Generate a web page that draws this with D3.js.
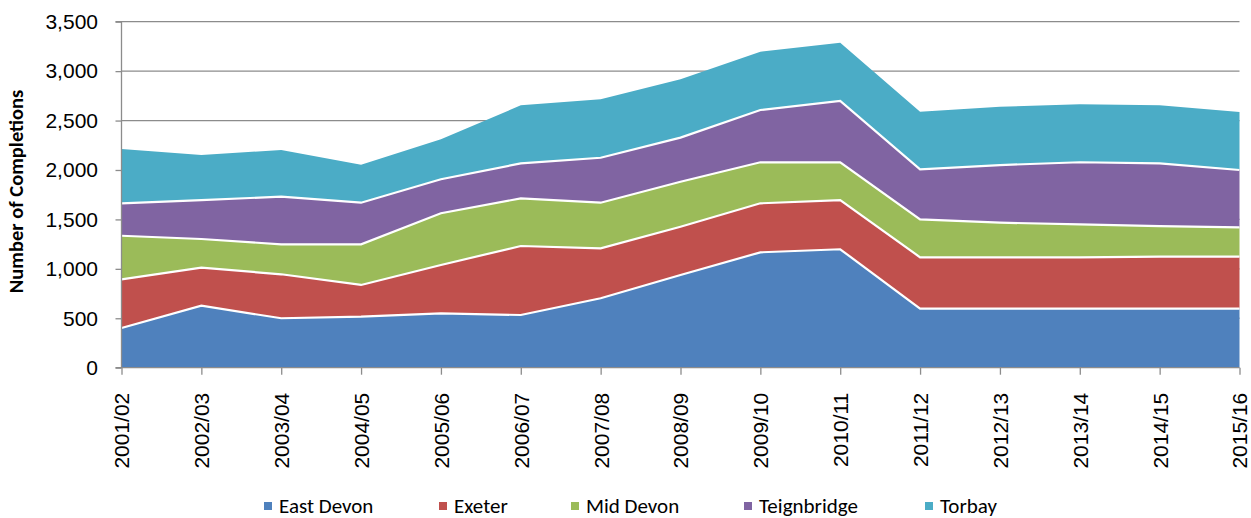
<!DOCTYPE html>
<html>
<head>
<meta charset="utf-8">
<script src="https://cdn.jsdelivr.net/npm/d3@7"></script>
<style>
  html, body { margin: 0; padding: 0; background: #fff; }
  svg { display: block; font-family: Carlito, Calibri, "Liberation Sans", "DejaVu Sans", sans-serif; }
</style>
</head>
<body>
<svg id="chart" width="1251" height="518"></svg>
<script>
// Housing completions by district, stacked
const years = ["2001/02","2002/03","2003/04","2004/05","2005/06","2006/07","2007/08",
               "2008/09","2009/10","2010/11","2011/12","2012/13","2013/14","2014/15","2015/16"];
const seriesNames = ["East Devon","Exeter","Mid Devon","Teignbridge","Torbay"];
const eastDevon   = [401, 627, 500, 516, 550, 533, 702, 938, 1167, 1198, 598, 598, 598, 598, 598];
const exeter      = [493, 385, 445, 321, 489, 698, 506, 488, 496, 498, 519, 519, 519, 525, 525];
const midDevon    = [441, 290, 303, 411, 523, 482, 461, 455, 415, 382, 384, 350, 333, 310, 297];
const teignbridge = [328, 394, 482, 421, 344, 354, 455, 446, 529, 620, 506, 583, 628, 634, 580];
const torbay      = [549, 455, 472, 384, 404, 587, 591, 590, 590, 590, 583, 590, 586, 587, 587];
const colors = ["#4F81BD","#C0504D","#9BBB59","#8064A2","#4BACC6"];
const yTicks = [0, 500, 1000, 1500, 2000, 2500, 3000, 3500];
const yTitle = "Number of Completions";

const rows = years.map((y, i) => ({
  year: y,
  "East Devon": eastDevon[i],
  "Exeter": exeter[i],
  "Mid Devon": midDevon[i],
  "Teignbridge": teignbridge[i],
  "Torbay": torbay[i]
}));

const svg = d3.select("#chart");
const plotLeft = 121.5, plotRight = 1239.5, plotTop = 21.7, plotBottom = 367.7;

const x = d3.scalePoint().domain(years).range([plotLeft, plotRight]);
const y = d3.scaleLinear().domain([0, 3500]).range([plotBottom, plotTop]);

// gridlines
svg.append("g").selectAll("line").data(yTicks.slice(1)).join("line")
  .attr("x1", plotLeft).attr("x2", plotRight)
  .attr("y1", d => y(d)).attr("y2", d => y(d))
  .attr("stroke", "#8c8c8c").attr("stroke-width", 1.3);

const stacked = d3.stack().keys(seriesNames)(rows);

const area = d3.area()
  .x(d => x(d.data.year))
  .y0(d => y(d[0]))
  .y1(d => y(d[1]));

svg.append("g").selectAll("path").data(stacked).join("path")
  .attr("d", area)
  .attr("fill", (d, i) => colors[i]);

// white separators along the top of each lower band
const topLine = d3.line()
  .x(d => x(d.data.year))
  .y(d => y(d[1]));

svg.append("g").selectAll("path").data(stacked.slice(0, 4)).join("path")
  .attr("d", topLine)
  .attr("fill", "none")
  .attr("stroke", "#fff")
  .attr("stroke-width", 2.2);

// y axis
const yAxis = svg.append("g").attr("transform", `translate(${plotLeft},0)`)
  .call(d3.axisLeft(y).tickValues(yTicks).tickFormat(d3.format(",")).tickSize(6).tickPadding(17.5));
yAxis.select(".domain").attr("stroke", "#8c8c8c").attr("stroke-width", 1.3).attr("d", `M-6,${plotTop}H0V${plotBottom}H-6`);
yAxis.selectAll(".tick line").attr("stroke", "#8c8c8c").attr("stroke-width", 1.3);
yAxis.selectAll(".tick text").attr("font-size", 21).attr("fill", "#000");

// x axis
const xAxis = svg.append("g").attr("transform", `translate(0,${plotBottom})`)
  .call(d3.axisBottom(x).tickSize(7).tickPadding(8));
xAxis.select(".domain").attr("stroke", "#8c8c8c").attr("stroke-width", 1.3).attr("d", `M${plotLeft},0H${plotRight}`);
xAxis.selectAll(".tick line").attr("stroke", "#8c8c8c").attr("stroke-width", 1.3);
xAxis.selectAll(".tick text")
  .attr("font-size", 21).attr("fill", "#000")
  .attr("transform", "rotate(-90)")
  .attr("text-anchor", "end")
  .attr("x", -25).attr("y", 0).attr("dy", "0.35em");

// y title
svg.append("text")
  .attr("transform", `translate(23,191.5) rotate(-90)`)
  .attr("text-anchor", "middle")
  .attr("font-size", 20.5).attr("font-weight", "bold")
  .text(yTitle);

// legend
const legendX = [264, 439, 571, 744, 925];
const lg = svg.append("g").selectAll("g").data(seriesNames).join("g")
  .attr("transform", (d, i) => `translate(${legendX[i]},505)`);
lg.append("rect").attr("x", 0).attr("y", -3).attr("width", 8).attr("height", 8)
  .attr("fill", (d, i) => colors[i]);
lg.append("text").attr("x", 15).attr("y", 0).attr("dy", "0.36em")
  .attr("font-size", 21).attr("fill", "#000").text(d => d);
</script>
</body>
</html>
